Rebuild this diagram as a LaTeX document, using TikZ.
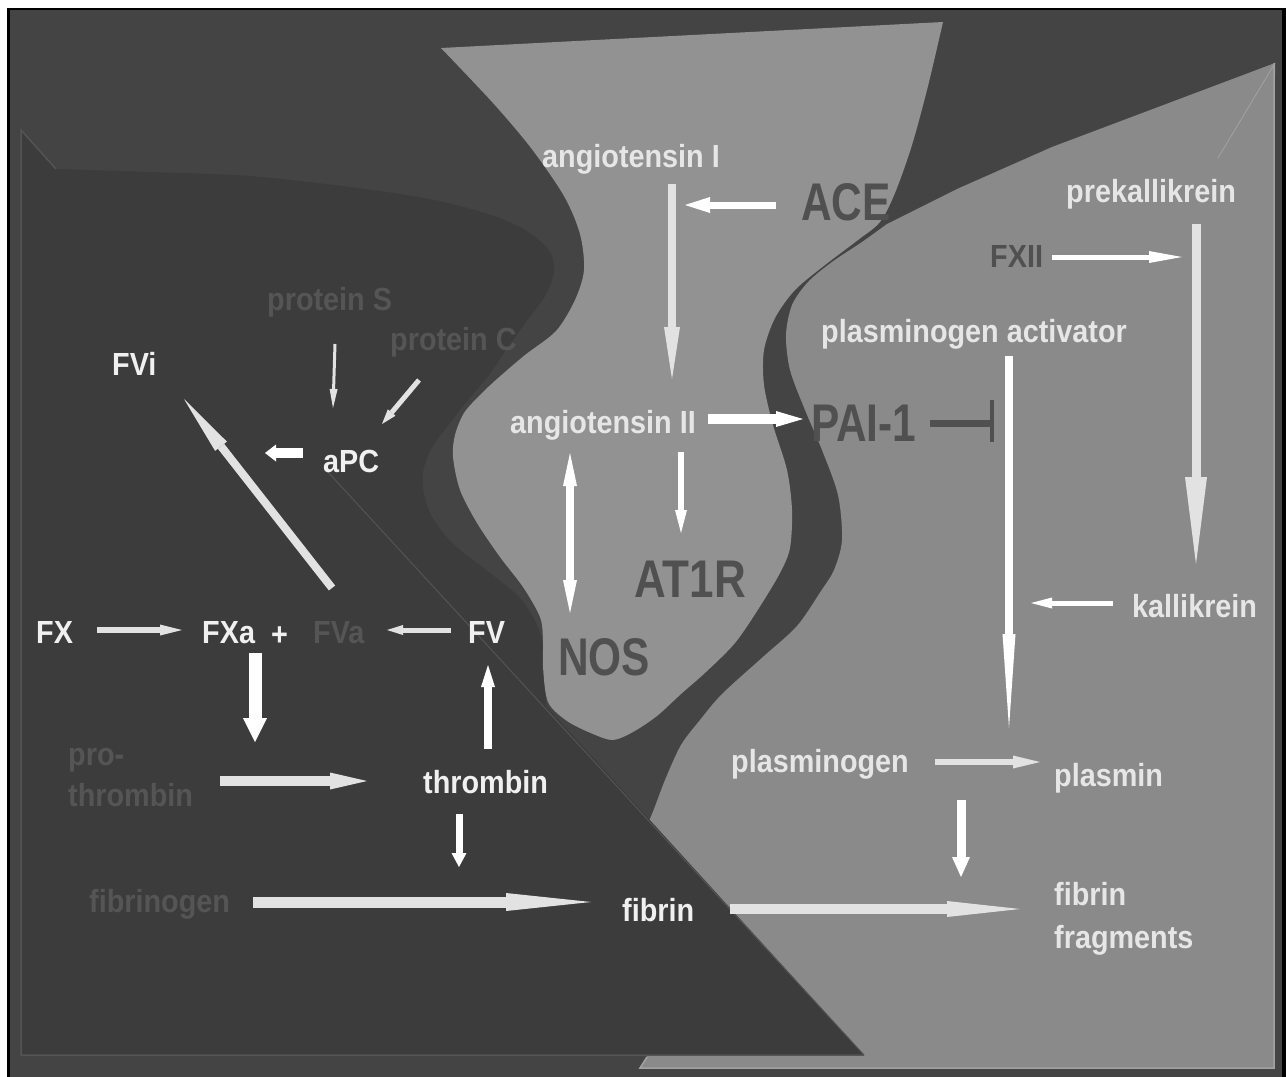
\documentclass[tikz,border=0pt]{standalone}
\usepackage{fontspec}
\setmainfont{Liberation Sans}
\newfontfamily\lblfont{Liberation Sans}[FakeStretch=0.9]
\newfontfamily\bigfnt{Liberation Sans}[FakeStretch=0.8]
\newfontfamily\bigfntw{Liberation Sans}[FakeStretch=0.83]
\usetikzlibrary{arrows.meta}
\definecolor{bgdark}{HTML}{444444}
\definecolor{leftdark}{HTML}{3C3C3C}
\definecolor{hglass}{HTML}{929292}
\definecolor{rlight}{HTML}{8A8A8A}
\definecolor{rline}{HTML}{A2A2A2}
\definecolor{tline}{HTML}{545454}
\definecolor{txtW}{HTML}{F0F0F0}
\definecolor{txtL}{HTML}{E6E6E6}
\definecolor{txtDim}{HTML}{555555}
\definecolor{txtBig}{HTML}{505050}
\definecolor{arrW}{HTML}{FFFFFF}
\definecolor{arrG}{HTML}{E2E2E2}
\begin{document}
\begin{tikzpicture}[x=1pt,y=-1pt,
  lbl/.style={inner sep=0pt, anchor=base west, font=\lblfont\bfseries\fontsize{32}{36}\selectfont},
  big/.style={inner sep=0pt, anchor=base west, font=\bigfnt\bfseries\fontsize{53}{60}\selectfont, text=txtBig},
  bigw/.style={inner sep=0pt, anchor=base west, font=\bigfntw\bfseries\fontsize{53}{60}\selectfont, text=txtBig},
  aw/.style={line cap=butt, draw=arrW, line width=#1},
  ag/.style={line cap=butt, draw=arrG, line width=#1},
]
\useasboundingbox (0,0) rectangle (1286,1077);
\fill[white] (0,0) rectangle (1286,1077);
\fill[black] (7,8) rectangle (1286,1077);
\fill[bgdark] (10,10) rectangle (1282,1077);

% right light region
\fill[rlight] plot[smooth, tension=0.5] coordinates {(887,224) (862,242) (832,262) (808,282) (792,305) (786,335) (790,370) (805,410) (822,450) (838,495) (842,540) (834,570) (821,591) (797,626) (764,656) (722,694) (700,720) (681,745) (665,780) (652,814) (640,840)} -- (630,900) -- (640,1000) -- (647,1057) -- (640,1068) -- (1274,1068) -- (1275,63) -- (1052,147) -- (957,189) -- cycle;
\draw[rline, line width=1.5pt] (1274,63) -- (1274,1068) -- (640,1068) -- (647,1057);
\draw[rline, line width=0.8pt] (1275,63) -- (1218,158);

% lower-left triangle and left region
\fill[leftdark] (21,130) -- (864,1055) -- (21,1055) -- cycle;
\fill[leftdark] plot[smooth, tension=0.5] coordinates {(56,169) (150,172) (249,176) (350,187) (435,200) (497,217) (530,233) (550,252) (554,272) (545,296) (526,322) (506,350) (489,375) (468,400) (447,427) (431,449) (423,472) (424,494) (431,515) (445,535) (460,550) (490,573) (520,598) (537,625) (543,648) (545,680) (546,706)} -- cycle;

% hourglass
\fill[hglass] plot[smooth, tension=0.5] coordinates {(943,22) (928,86) (912,145) (895,193) (880,222) (858,240) (825,265) (795,290) (775,318) (764,350) (764,385) (773,425) (787,470) (792,510) (790,548) (780,573) (759,608) (735,643) (706,672) (681,694) (657,716) (633,732) (613,740) (593,734) (567,721) (548,702) (543,667) (543,640) (540,617) (523,587) (500,557) (477,523) (460,490) (453,457) (455,435) (464,413) (480,395) (497,379) (525,355) (556,331) (575,300) (584,270) (580,234) (564,196) (531,148) (493,103) (441,48)} -- cycle;

% outline lines
\draw[tline, line width=1.5pt] (56,169) -- (21,130) -- (21,1055) -- (864,1055);
\draw[tline, line width=1pt] (327,471) -- (864,1055);

% labels
\node[lbl, text=txtL] (angI) at (542,167) {angiotensin I};
\node[big] (ace) at (801,220) {ACE};
\node[lbl, text=txtL] (prekal) at (1066,202) {prekallikrein};
\node[lbl, text=txtBig] (fxii) at (990,267) {FXII};
\node[lbl, text=txtL] (plact) at (821,342) {plasminogen activator};
\node[lbl, text=txtL] (angII) at (510,433) {angiotensin II};
\node[big] (pai) at (811,441) {PAI-1};
\node[bigw] (at1r) at (634,597) {AT1R};
\node[big] (nos) at (558,675) {NOS};
\node[lbl, text=txtL] (kal) at (1132,617) {kallikrein};
\node[lbl, text=txtL] (plg) at (731,772) {plasminogen};
\node[lbl, text=txtL] (plm) at (1054,786) {plasmin};
\node[lbl, text=txtL] (frag1) at (1054,905) {fibrin};
\node[lbl, text=txtL] (frag2) at (1054,948) {fragments};
\node[lbl, text=txtW] (fibrin) at (622,921) {fibrin};
\node[lbl, text=txtDim] (fbg) at (89,912) {fibrinogen};
\node[lbl, text=txtW] (thr) at (423,793) {thrombin};
\node[lbl, text=txtDim] (pro1) at (68,765) {pro-};
\node[lbl, text=txtDim] (pro2) at (68,806) {thrombin};
\node[lbl, text=txtW] (fx) at (36,643) {FX};
\node[lbl, text=txtW] (fxa) at (202,643) {FXa};
\node[lbl, text=txtW] (plus) at (271,645) {+};
\node[lbl, text=txtDim] (fva) at (313,643) {FVa};
\node[lbl, text=txtW] (fv) at (468,643) {FV};
\node[lbl, text=txtW] (fvi) at (112,375) {FVi};
\node[lbl, text=txtW] (apc) at (323,472) {aPC};
\node[lbl, text=txtDim] (prs) at (267,310) {protein S};
\node[lbl, text=txtDim] (prc) at (390,350) {protein C};

% arrow end points
\coordinate (a1s) at (672,184); \coordinate (a1e) at (672,379);
\coordinate (a2s) at (776,205); \coordinate (a2e) at (685,205);
\coordinate (a3s) at (708,419); \coordinate (a3e) at (803,419);
\coordinate (a4s) at (681,452); \coordinate (a4e) at (681,533);
\coordinate (a5s) at (570,453); \coordinate (a5e) at (570,613);
\coordinate (a6s) at (930,423); \coordinate (a6e) at (992,423);
\coordinate (a6t) at (992,400); \coordinate (a6b) at (992,442);
\coordinate (a7s) at (1052,257); \coordinate (a7e) at (1182,257);
\coordinate (a8s) at (1196,224); \coordinate (a8e) at (1196,564);
\coordinate (a9s) at (1009,356); \coordinate (a9e) at (1009,728);
\coordinate (a10s) at (1113,603); \coordinate (a10e) at (1031,603);
\coordinate (a11s) at (935,762); \coordinate (a11e) at (1040,762);
\coordinate (a12s) at (961,800); \coordinate (a12e) at (961,877);
\coordinate (a13s) at (730,909); \coordinate (a13e) at (1020,909);
\coordinate (a14s) at (253,902); \coordinate (a14e) at (591,902);
\coordinate (a15s) at (459,814); \coordinate (a15e) at (459,867);
\coordinate (a16s) at (488,749); \coordinate (a16e) at (488,665);
\coordinate (a17s) at (220,781); \coordinate (a17e) at (367,781);
\coordinate (a18s) at (255,653); \coordinate (a18e) at (255,742);
\coordinate (a19s) at (97,630); \coordinate (a19e) at (182,630);
\coordinate (a20s) at (451,630); \coordinate (a20e) at (387,630);
\coordinate (a21s) at (332,588); \coordinate (a21e) at (184,399);
\coordinate (a22s) at (303,453); \coordinate (a22e) at (265,453);
\coordinate (a23s) at (335,344); \coordinate (a23e) at (333,408);
\coordinate (a24s) at (419,380); \coordinate (a24e) at (382,424);

% arrows
\draw[ag=8pt, -{Triangle[length=52pt,width=16pt,line width=0pt]}] (a1s) -- (a1e);
\draw[aw=7pt, -{Triangle[length=25pt,width=16pt,line width=0pt]}] (a2s) -- (a2e);
\draw[aw=10pt, -{Triangle[length=27pt,width=16pt,line width=0pt]}] (a3s) -- (a3e);
\draw[aw=6pt, -{Triangle[length=23pt,width=12pt,line width=0pt]}] (a4s) -- (a4e);
\draw[aw=8pt, {Triangle[length=33pt,width=14pt,line width=0pt]}-{Triangle[length=33pt,width=14pt,line width=0pt]}] (a5s) -- (a5e);
\draw[txtBig, line width=7pt] (a6s) -- (a6e);
\draw[txtBig, line width=4pt] (a6t) -- (a6b);
\draw[aw=5pt, -{Triangle[length=33pt,width=12pt,line width=0pt]}] (a7s) -- (a7e);
\draw[ag=9pt, -{Triangle[length=87pt,width=22pt,line width=0pt]}] (a8s) -- (a8e);
\draw[aw=8pt, -{Triangle[length=94pt,width=13pt,line width=0pt]}] (a9s) -- (a9e);
\draw[aw=5pt, -{Triangle[length=21pt,width=11pt,line width=0pt]}] (a10s) -- (a10e);
\draw[ag=6pt, -{Triangle[length=27pt,width=13pt,line width=0pt]}] (a11s) -- (a11e);
\draw[aw=9pt, -{Triangle[length=20pt,width=18pt,line width=0pt]}] (a12s) -- (a12e);
\draw[ag=10pt, -{Triangle[length=73pt,width=16pt,line width=0pt]}] (a13s) -- (a13e);
\draw[ag=11pt, -{Triangle[length=85pt,width=18pt,line width=0pt]}] (a14s) -- (a14e);
\draw[aw=7pt, -{Triangle[length=14pt,width=15pt,line width=0pt]}] (a15s) -- (a15e);
\draw[aw=8pt, -{Triangle[length=22pt,width=14pt,line width=0pt]}] (a16s) -- (a16e);
\draw[ag=10pt, -{Triangle[length=37pt,width=17pt,line width=0pt]}] (a17s) -- (a17e);
\draw[aw=13pt, -{Triangle[length=24pt,width=24pt,line width=0pt]}] (a18s) -- (a18e);
\draw[ag=6pt, -{Triangle[length=22pt,width=11pt,line width=0pt]}] (a19s) -- (a19e);
\draw[ag=5pt, -{Triangle[length=16pt,width=10pt,line width=0pt]}] (a20s) -- (a20e);
\draw[ag=8pt, -{Triangle[length=60pt,width=15pt,line width=0pt]}] (a21s) -- (a21e);
\draw[aw=10pt, -{Triangle[length=11pt,width=17pt,line width=0pt]}] (a22s) -- (a22e);
\draw[ag=3pt, -{Triangle[length=19pt,width=8pt,line width=0pt]}] (a23s) -- (a23e);
\draw[ag=5pt, -{Triangle[length=15pt,width=10pt,line width=0pt]}] (a24s) -- (a24e);
\end{tikzpicture}
\end{document}
